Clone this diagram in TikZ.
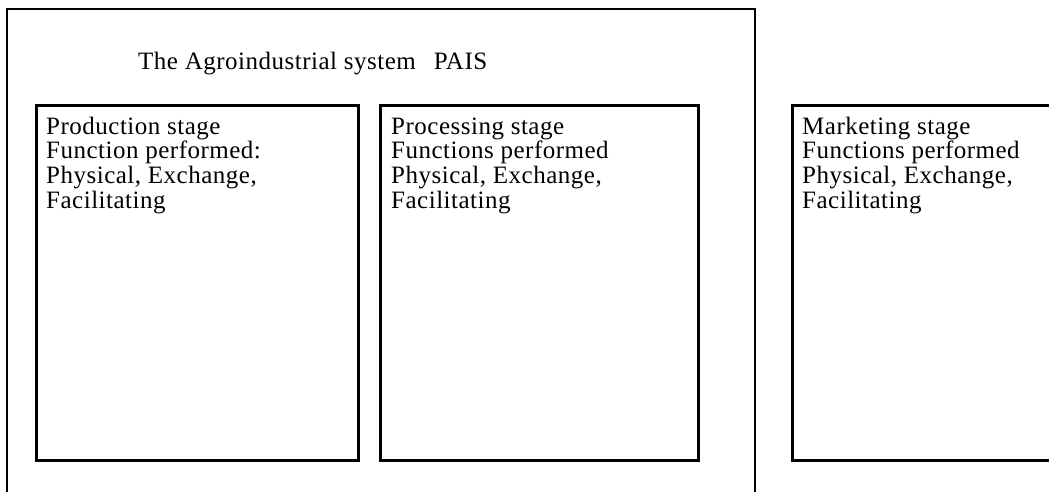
\documentclass[tikz,border=0pt]{standalone}
\usepackage{fontspec}
\setmainfont{Liberation Serif}
\newfontfamily\diagfont[LetterSpace=2]{Liberation Serif}
\begin{document}
\begin{tikzpicture}[x=1pt,y=-1pt,
  frame/.style={draw=black,line width=2.6pt},
  stagebox/.style={draw=black,line width=2.8pt,rectangle,inner sep=0pt},
  label/.style={inner sep=0pt,anchor=base west,font=\diagfont\fontsize{25}{24.7}\selectfont}]
\useasboundingbox (0,0) rectangle (1049,491);
\clip (0,0) rectangle (1049,491);
% outer system frame (open at the bottom)
\coordinate (ol) at (7,500);
\coordinate (or) at (755,500);
\draw[frame] (ol) |- (755,9) -- (or);
\node[label] (title) at (138,69) {The Agroindustrial system\hspace{18pt}PAIS};
% stage boxes
\node[stagebox,minimum width=322pt,minimum height=355pt,anchor=north west] (prod) at (35,104) {};
\node[stagebox,minimum width=318pt,minimum height=355pt,anchor=north west] (proc) at (379,104) {};
\node[stagebox,minimum width=290pt,minimum height=355pt,anchor=north west] (mark) at (791,104) {};
% texts
\node[label] (prodtext) at (46,134) {\vtop{\hbox{Production stage}\hbox{Function performed:}\hbox{Physical, Exchange,}\hbox{Facilitating}}};
\node[label] (proctext) at (391,134) {\vtop{\hbox{Processing stage}\hbox{Functions performed}\hbox{Physical, Exchange,}\hbox{Facilitating}}};
\node[label] (marktext) at (802,134) {\vtop{\hbox{Marketing stage}\hbox{Functions performed}\hbox{Physical, Exchange,}\hbox{Facilitating}}};
\end{tikzpicture}
\end{document}
